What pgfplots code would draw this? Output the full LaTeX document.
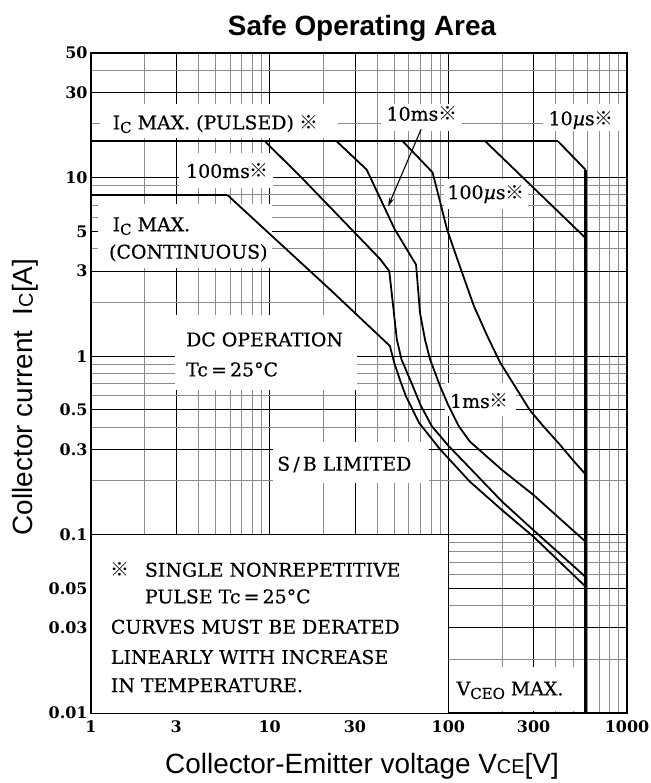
\documentclass[border=0pt]{standalone}
\usepackage{fontspec}
\usepackage{pgfplots}
\pgfplotsset{compat=1.18}
\usetikzlibrary{arrows.meta}
\setmainfont{DejaVu Serif}
\newfontfamily\labfont[FakeBold=0.4]{DejaVu Serif}
\newfontfamily\arialfont{Liberation Sans}
\newfontfamily\cjkfont{Noto Sans CJK JP}
\newcommand{\kome}{{\cjkfont ※}}
\newcommand{\labsize}{\labfont\fontsize{19}{21}\selectfont}
\newcommand{\sub}[1]{\raisebox{-3.5bp}{\fontsize{15}{15}\selectfont #1}}

\begin{document}
\begin{tikzpicture}[x=1bp,y=1bp]
\begin{axis}[
  at={(0,0)}, anchor=south west,
  scale only axis, width=536bp, height=660bp,
  xmode=log, ymode=log,
  xmin=1, xmax=1000, ymin=0.01, ymax=50,
  xtick={1,3,10,30,100,300,1000},
  xticklabels={1,3,10,30,100,300,1000},
  ytick={0.01,0.03,0.05,0.1,0.3,0.5,1,3,5,10,30,50},
  yticklabels={0.01,0.03,0.05,0.1,0.3,0.5,1,3,5,10,30,50},
  minor xtick={2,4,5,6,7,8,9,20,40,50,60,70,80,90,200,400,500,600,700,800,900},
  minor ytick={0.02,0.04,0.06,0.07,0.08,0.09,0.2,0.4,0.6,0.7,0.8,0.9,2,4,6,7,8,9,20,40},
  grid=both,
  major grid style={draw=black, line width=0.8bp},
  minor grid style={draw=black!45, line width=1bp},
  major tick length=0pt, minor tick length=0pt,
  axis line style={line width=1.2bp},
  tick label style={font=\fontsize{16}{16}\selectfont\bfseries},
  xticklabel style={yshift=-4bp},
  clip=false,
  curve/.style={black, line width=1.8bp, line join=round},
]

% white areas behind the labels
\fill[white] (1.13,16.8) rectangle (24,26);
\fill[white] (42,18.2) rectangle (120,26);
\fill[white] (340,18.2) rectangle (990,26);
\fill[white] (95,6.7) rectangle (280,9.8);
\fill[white] (3.1,8.8) rectangle (10.4,13.7);
\fill[white] (1.1,3.1) rectangle (10.3,7.1);
\fill[white] (2.95,0.65) rectangle (31,1.7);
\fill[white] (96,0.46) rectangle (240,0.71);
\fill[white] (10.5,0.195) rectangle (78,0.33);
\fill[white] (100,0.0103) rectangle (565,0.018);
\draw[fill=white, line width=0.9bp] (1,0.01) rectangle (100,0.1);

% Ic max lines
\addplot[curve] coordinates {(1,16) (411,16)};
\addplot[curve] coordinates {(1,8) (5.8,8)};
% DC
\addplot[curve] coordinates {(5.8,8) (21.7,2.37) (47.1,1.14) (49.8,0.917)
  (53.5,0.74) (57.9,0.596) (68.7,0.422) (90,0.3) (132,0.198) (200,0.137)
  (299,0.0975) (585,0.0512)};
% 100 ms
\addplot[curve] coordinates {(9.4,16) (15.1,10) (41.3,3.52) (46.7,3.0)
  (51.5,1.24) (54.7,0.957) (62.2,0.708) (70,0.53) (80.8,0.405) (100,0.315)
  (132,0.236) (200,0.153) (299,0.106) (585,0.058)};
% 10 ms
\addplot[curve] coordinates {(23.7,16) (34.9,11.1) (50.1,5.14) (66,3.25)
  (69.4,1.75) (74,1.24) (79,0.96) (90,0.678) (100,0.53) (114.4,0.405)
  (132,0.332) (200,0.23) (299,0.167) (585,0.0914)};
% 1 ms
\addplot[curve] coordinates {(55.6,16) (81.6,10.7) (90,7.3) (98.3,5.14)
  (112,3.52) (139,1.91) (165,1.3) (195,0.92) (240,0.66) (285,0.5)
  (340,0.405) (420,0.32) (500,0.26) (585,0.218)};
% 100 us
\addplot[curve] coordinates {(161,16) (585,4.6)};
% 10 us and VCEO max
\addplot[curve] coordinates {(411,16) (585,11.1)};
\addplot[black, line width=2.6bp] coordinates {(585,11.1) (585,0.01)};

\draw[-{Stealth[length=9bp,width=5bp]}, line width=1.1bp] (70.4,18.7) -- (46,6.9);

% labels
\begin{scope}[every node/.style={anchor=west, inner sep=0pt, font=\labsize}]
\node at (1.32,20) {I\sub{C} MAX. (PULSED) \kome};
\node at (45,22.8) {10ms\kome};
\node at (363,21) {10{\itshape µ}s\kome};
\node at (98.6,8.1) {100{\itshape µ}s\kome};
\node at (3.4,10.9) {100ms\kome};
\node at (1.32,5.35) {I\sub{C} MAX.};
\node at (1.26,3.79) {(CONTINUOUS)};
\node at (3.4,1.24) {DC OPERATION};
\node at (3.4,0.842) {Tc\,=\,25°C};
\node at (102,0.56) {1ms\kome};
\node at (11,0.247) {S\,/\,B LIMITED};
\node at (1.29,0.0635) {\kome};
\node at (2.0,0.0635) {SINGLE NONREPETITIVE};
\node at (2.0,0.045) {PULSE Tc\,=\,25°C};
\node at (1.29,0.0304) {CURVES MUST BE DERATED};
\node at (1.29,0.0206) {LINEARLY WITH INCREASE};
\node at (1.29,0.0143) {IN TEMPERATURE.};
\node at (111,0.0134) {V\sub{CEO} MAX.};
\end{scope}
\end{axis}

\node[font=\arialfont\bfseries\fontsize{28}{28}\selectfont, anchor=base] at (271,677) {Safe Operating Area};
\node[font=\arialfont\fontsize{28}{28}\selectfont, anchor=base] at (271,-60) {Collector-Emitter voltage V{\fontsize{20}{20}\selectfont CE}[V]};
\node[font=\arialfont\fontsize{28}{28}\selectfont, anchor=base, rotate=90] at (-58,316) {Collector current\ \ I{\fontsize{20}{20}\selectfont C}[A]};

\pgfresetboundingbox
\path[use as bounding box] (-91,-70) rectangle (560,713);
\end{tikzpicture}
\end{document}
